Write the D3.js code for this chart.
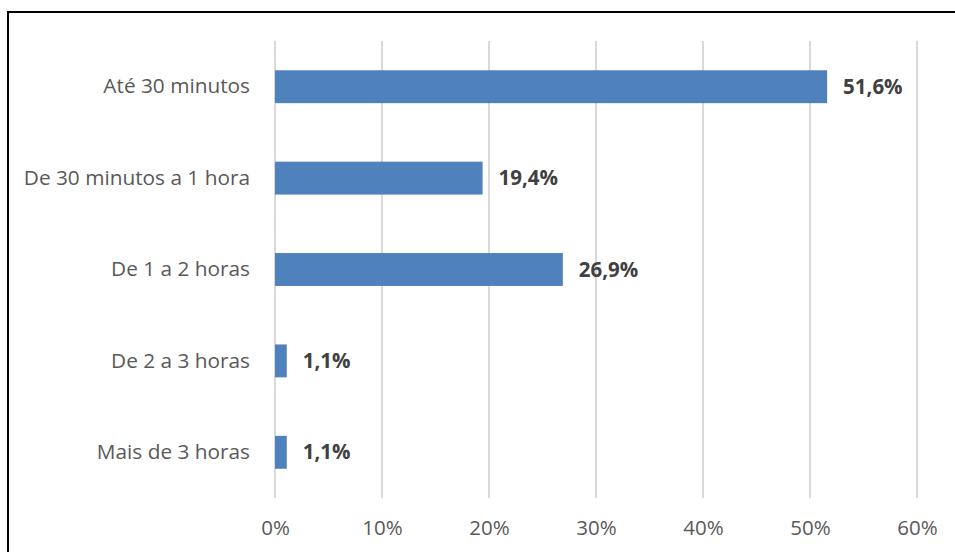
<!DOCTYPE html>
<html>
<head>
<meta charset="utf-8">
<script src="https://cdn.jsdelivr.net/npm/d3@7"></script>
<style>
  html, body { margin: 0; padding: 0; background: #fff; }
  svg { display: block; }
</style>
</head>
<body>
<svg id="chart" width="955" height="552"></svg>
<script>
// Time spent per session — share of respondents
const categories = ["Até 30 minutos", "De 30 minutos a 1 hora", "De 1 a 2 horas", "De 2 a 3 horas", "Mais de 3 horas"];
const values = [51.6, 19.4, 26.9, 1.1, 1.1];
const tickValues = [0, 10, 20, 30, 40, 50, 60];

const svg = d3.select("#chart");
const W = 955, H = 552;
const margin = { left: 275, right: 38, top: 41, bottom: 54 };
const fontFamily = "'Open Sans', 'Noto Sans', sans-serif";

// Frame: top and left rule
svg.append("line").attr("x1", 7).attr("x2", 955).attr("y1", 12).attr("y2", 12)
  .attr("stroke", "#000").attr("stroke-width", 2);
svg.append("line").attr("x1", 8).attr("x2", 8).attr("y1", 11).attr("y2", H)
  .attr("stroke", "#000").attr("stroke-width", 2);

const x = d3.scaleLinear().domain([0, 60]).range([margin.left, W - margin.right]);
const y = d3.scaleBand().domain(categories).range([margin.top, H - margin.bottom]).paddingInner(0.64).paddingOuter(0.32);

// Vertical gridlines
svg.append("g").selectAll("line").data(tickValues).join("line")
  .attr("x1", d => x(d)).attr("x2", d => x(d))
  .attr("y1", margin.top).attr("y2", H - margin.bottom)
  .attr("stroke", "#d9d9d9").attr("stroke-width", 2);

// Bottom axis labels
const xAxis = d3.axisBottom(x).tickValues(tickValues).tickFormat(d => d + "%").tickSize(0).tickPadding(22);
const gx = svg.append("g").attr("transform", `translate(0,${H - margin.bottom})`).call(xAxis);
gx.select(".domain").remove();
gx.selectAll("text").attr("font-family", fontFamily).attr("font-size", 20.5).attr("fill", "#595959");

// Left axis labels
const yAxis = d3.axisLeft(y).tickSize(0).tickPadding(25);
const gy = svg.append("g").attr("transform", `translate(${margin.left},0)`).call(yAxis);
gy.select(".domain").remove();
gy.selectAll("text").attr("font-family", fontFamily).attr("font-size", 20.8).attr("fill", "#595959");

// Bars
svg.append("g").selectAll("rect").data(values).join("rect")
  .attr("x", x(0))
  .attr("y", (d, i) => y(categories[i]))
  .attr("width", d => x(d) - x(0))
  .attr("height", y.bandwidth())
  .attr("fill", "#4f81bd");

// Value labels
svg.append("g").selectAll("text").data(values).join("text")
  .attr("x", d => x(d) + 16)
  .attr("y", (d, i) => y(categories[i]) + y.bandwidth() / 2)
  .attr("dy", "0.35em")
  .attr("font-family", fontFamily).attr("font-size", 20.5).attr("font-weight", "bold")
  .attr("fill", "#404040")
  .text(d => d.toFixed(1).replace(".", ",") + "%");
</script>
</body>
</html>
